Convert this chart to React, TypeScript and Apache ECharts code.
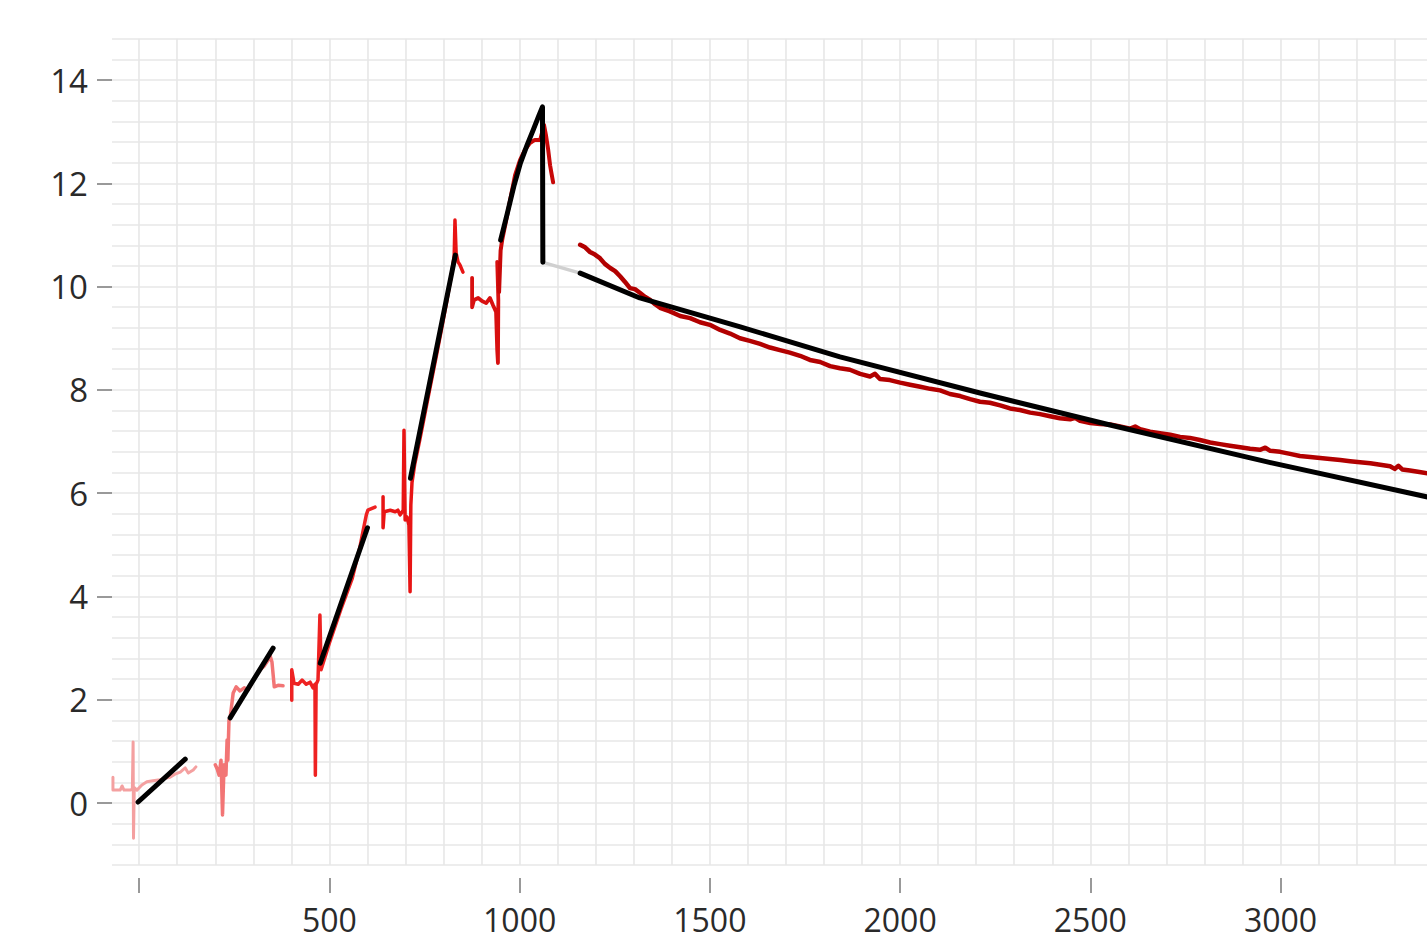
import React, { useEffect, useRef } from "react";
import * as echarts from "echarts";

// ---- axis ticks / labels ----
const xTickValues = [0, 500, 1000, 1500, 2000, 2500, 3000];
const xLabelValues = [500, 1000, 1500, 2000, 2500, 3000];
const yTickValues = [0, 2, 4, 6, 8, 10, 12, 14];
const xGridLines = [0, 100, 200, 300, 400, 500, 600, 700, 800, 900, 1000, 1100, 1200, 1300, 1400, 1500, 1600, 1700, 1800, 1900, 2000, 2100, 2200, 2300, 2400, 2500, 2600, 2700, 2800, 2900, 3000, 3100, 3200, 3300];
const yGridLines = [-1.2, -0.8, -0.4, 0, 0.4, 0.8, 1.2, 1.6, 2, 2.4, 2.8, 3.2, 3.6, 4, 4.4, 4.8, 5.2, 5.6, 6, 6.4, 6.8, 7.2, 7.6, 8, 8.4, 8.8, 9.2, 9.6, 10, 10.4, 10.8, 11.2, 11.6, 12, 12.4, 12.8, 13.2, 13.6, 14, 14.4, 14.8];

// ---- measured traces (x, y) ----
const trace1 = [
  [-69, 0.5], [-69, 0.25], [-50, 0.25], [-45, 0.33], [-40, 0.25], [-24, 0.25], [-18, 0.27],
  [-16, 1.18], [-15, -0.68], [-13, 0.3], [-6, 0.25], [7, 0.35], [20, 0.41], [36, 0.43],
  [55, 0.45], [68, 0.48], [81, 0.5], [94, 0.56], [108, 0.6], [121, 0.68], [129, 0.58],
  [142, 0.64], [149, 0.7],
];
const trace2 = [
  [200, 0.74], [205, 0.66], [210, 0.54], [215, 0.83], [219, -0.23], [223, 0.74], [228, 0.54],
  [231, 1.22], [233, 0.83], [236, 1.61], [239, 1.65], [247, 2.13], [255, 2.25], [265, 2.17],
  [276, 2.23], [286, 2.19], [297, 2.34], [307, 2.46], [318, 2.58], [328, 2.65], [339, 2.77],
  [344, 2.85], [349, 2.73], [355, 2.25], [365, 2.28], [378, 2.27],
];
const trace3 = [
  [401, 1.99], [401, 2.58], [407, 2.32], [418, 2.3], [428, 2.38], [439, 2.3], [449, 2.34],
  [457, 2.23], [462, 2.3], [463, 0.54], [465, 2.3], [470, 2.38], [475, 3.64], [478, 2.58],
  [500, 3.1], [530, 3.75], [560, 4.35], [580, 4.95], [589, 5.29], [597, 5.58], [601, 5.67], [620, 5.73],
];
const trace4 = [
  [641, 5.93], [641, 5.33], [644, 5.64], [660, 5.67], [673, 5.64], [680, 5.67], [686, 5.58],
  [694, 5.67], [696, 7.22], [699, 5.48], [704, 5.54], [709, 5.38], [712, 4.09], [714, 5.77],
  [717, 6.2], [724, 6.55], [738, 7.05], [752, 7.58], [766, 8.1], [780, 8.62], [794, 9.15],
  [808, 9.7], [820, 10.2], [828, 10.6], [830, 11.29], [833, 10.65], [838, 10.48], [843, 10.42], [851, 10.28],
];
const trace5 = [
  [875, 10.17], [875, 9.6], [880, 9.74], [891, 9.78], [901, 9.72], [912, 9.68], [922, 9.78],
  [930, 9.64], [938, 9.51], [941, 8.77], [943, 8.52], [944, 9.74], [941, 10.48], [946, 9.9],
];
const trace6 = [
  [946, 9.9], [950, 10.7], [954, 10.9], [962, 11.19], [975, 11.68], [988, 12.16], [1001, 12.45],
  [1014, 12.65], [1027, 12.78], [1040, 12.84], [1054, 12.84], [1064, 13.13], [1069, 12.94],
  [1075, 12.65], [1080, 12.35], [1083, 12.22], [1088, 12.02],
];
const trace7 = [
  [1159, 10.81], [1172, 10.76], [1185, 10.67], [1198, 10.62], [1211, 10.55], [1224, 10.44],
  [1238, 10.36], [1251, 10.3], [1264, 10.2], [1277, 10.09], [1290, 9.97], [1303, 9.95],
  [1316, 9.88], [1330, 9.8], [1343, 9.74], [1356, 9.66], [1369, 9.59], [1395, 9.52],
  [1422, 9.43], [1448, 9.39], [1474, 9.31], [1500, 9.26], [1527, 9.16], [1553, 9.09],
  [1579, 9.0], [1605, 8.95], [1632, 8.89], [1658, 8.82], [1684, 8.77], [1710, 8.72],
  [1737, 8.66], [1763, 8.58], [1790, 8.54], [1816, 8.46], [1842, 8.42], [1868, 8.39],
  [1895, 8.31], [1921, 8.26], [1934, 8.31], [1947, 8.21], [1973, 8.19], [2000, 8.14],
  [2026, 8.1], [2053, 8.06], [2079, 8.02], [2105, 7.99], [2131, 7.92], [2158, 7.88],
  [2184, 7.82], [2210, 7.77], [2236, 7.75], [2263, 7.7], [2289, 7.64], [2315, 7.61],
  [2342, 7.56], [2368, 7.53], [2394, 7.49], [2420, 7.45], [2447, 7.43], [2460, 7.46],
  [2473, 7.4], [2500, 7.36], [2526, 7.34], [2552, 7.33], [2578, 7.29], [2605, 7.25],
  [2618, 7.29], [2631, 7.24], [2657, 7.19], [2683, 7.16], [2710, 7.13], [2736, 7.09],
  [2762, 7.07], [2788, 7.03], [2815, 6.98], [2841, 6.95], [2867, 6.92], [2894, 6.89],
  [2920, 6.86], [2946, 6.84], [2960, 6.88], [2973, 6.82], [2999, 6.8], [3025, 6.76],
  [3051, 6.72], [3078, 6.7], [3104, 6.68], [3130, 6.66], [3157, 6.64], [3183, 6.62],
  [3209, 6.6], [3236, 6.58], [3262, 6.55], [3288, 6.52], [3300, 6.47], [3310, 6.53],
  [3320, 6.46], [3340, 6.44], [3365, 6.41], [3390, 6.38],
];

// ---- fitted segments ----
const fit1 = [[-3, 0.02], [121, 0.85]];
const fit2 = [[239, 1.65], [352, 3.0]];
const fit3 = [[476, 2.71], [600, 5.33]];
const fit4 = [[713, 6.29], [831, 10.61]];
const fit5 = [
  [950, 10.9], [968, 11.43], [985, 11.95], [1002, 12.39], [1020, 12.75], [1036, 13.04],
  [1050, 13.3], [1060, 13.48], [1061, 10.47],
];
const bridge = [[1061, 10.47], [1159, 10.26]];
const fit6 = [
  [1159, 10.26], [1316, 9.78], [1580, 9.22], [1842, 8.64], [2210, 7.94], [2552, 7.32],
  [2968, 6.6], [3390, 5.92],
];

const FONT = "'Open Sans', 'Noto Sans', sans-serif";
const GRID_COLOR = "#e7e7e7";

function line(data: number[][], color: string, width: number, z = 3) {
  return {
    type: "line",
    data,
    showSymbol: false,
    symbol: "none",
    lineStyle: { color, width, cap: "round", join: "round" },
    z,
    silent: true,
  };
}

export default function App() {
  const ref = useRef<HTMLDivElement>(null);
  useEffect(() => {
    if (!ref.current) return;
    const chart = echarts.init(ref.current, undefined, { renderer: "svg" });
    chart.setOption({
      animation: false,
      backgroundColor: "#ffffff",
      grid: { left: 112, right: 0, top: 38.7, bottom: 76, containLabel: false },
      xAxis: {
        type: "value",
        min: -71.5,
        max: 3385,
        offset: 13,
        axisLine: { show: false, onZero: false },
        splitLine: { show: false },
        axisTick: {
          show: true,
          customValues: xTickValues,
          length: 15,
          lineStyle: { color: "#777", width: 1.5 },
        },
        axisLabel: {
          customValues: xLabelValues,
          formatter: (v: number) => String(v),
          margin: 26,
          fontSize: 32,
          lineHeight: 30,
          fontFamily: FONT,
          color: "#2a2a2a",
        },
      },
      yAxis: {
        type: "value",
        min: -1.2,
        max: 14.8,
        axisLine: { show: false, onZero: false },
        splitLine: { show: false },
        axisTick: {
          show: true,
          customValues: yTickValues,
          length: 15,
          lineStyle: { color: "#777", width: 1.5 },
        },
        axisLabel: {
          customValues: yTickValues,
          formatter: (v: number) => String(v),
          margin: 24,
          fontSize: 33,
          fontFamily: FONT,
          color: "#2a2a2a",
        },
      },
      series: [
        {
          type: "line",
          data: [[0, 0]],
          symbol: "none",
          lineStyle: { opacity: 0 },
          z: 0,
          silent: true,
          markLine: {
            z: 0,
            zlevel: 0,
            silent: true,
            symbol: ["none", "none"],
            label: { show: false },
            lineStyle: { color: GRID_COLOR, width: 1.6, type: "solid" },
            data: [
              ...xGridLines.map((v) => ({ xAxis: v })),
              ...yGridLines.map((v) => ({ yAxis: v })),
            ],
          },
        },
        line(trace1, "#f4a0a0", 3, 6),
        line(trace2, "#f27575", 3.5, 6),
        line(trace3, "#ee2222", 3.5, 6),
        line(trace4, "#e81414", 3.5, 6),
        line(trace5, "#d81010", 3.8, 6),
        line(trace6, "#c80808", 4, 6),
        line(trace7, "#b20000", 4.5, 6),
        line(bridge, "#d0d0d0", 3.5, 7),
        line(fit1, "#000000", 5, 8),
        line(fit2, "#000000", 5, 8),
        line(fit3, "#000000", 5, 8),
        line(fit4, "#000000", 5, 8),
        line(fit5, "#000000", 5, 8),
        line(fit6, "#000000", 5, 8),
      ],
    });
    return () => chart.dispose();
  }, []);
  return (
    <div
      ref={ref}
      style={{ position: "fixed", left: 0, top: 0, width: 1427, height: 941, background: "#fff" }}
    />
  );
}
